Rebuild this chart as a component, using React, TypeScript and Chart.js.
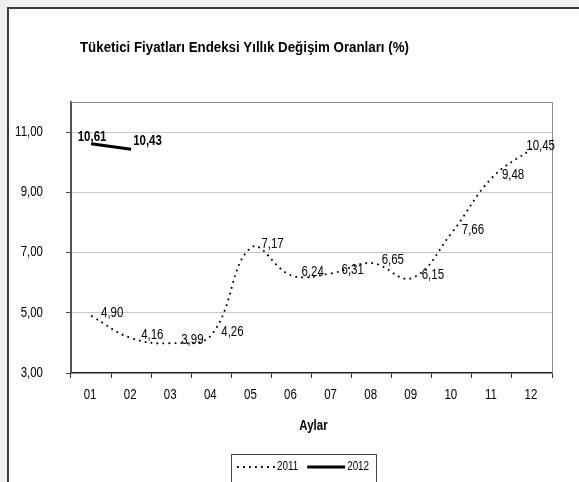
import React, { useEffect, useRef } from "react";
import { Chart, registerables } from "chart.js";

Chart.register(...registerables);

const months = ["01", "02", "03", "04", "05", "06", "07", "08", "09", "10", "11", "12"];
const values2011 = [4.9, 4.16, 3.99, 4.26, 7.17, 6.24, 6.31, 6.65, 6.15, 7.66, 9.48, 10.45];
const values2012 = [10.61, 10.43];
const yTickValues = [3, 5, 7, 9, 11];
const titleText = "Tüketici Fiyatları Endeksi Yıllık Değişim Oranları (%)";
const xAxisTitle = "Aylar";

const FONT = "'Liberation Sans', Arial, sans-serif";
const NARROW = 0.82;
const fmt = (v: number) => v.toFixed(2).replace(".", ",");

const CW = 570;
const CH = 473;

function drawText(
  ctx: CanvasRenderingContext2D,
  txt: string,
  x: number,
  y: number,
  align: CanvasTextAlign,
  font: string,
  sx: number = NARROW
) {
  ctx.save();
  ctx.font = font;
  ctx.textAlign = align;
  ctx.textBaseline = "middle";
  ctx.translate(x, y);
  ctx.scale(sx, 1);
  ctx.fillText(txt, 0, 0);
  ctx.restore();
}

function textWidth(ctx: CanvasRenderingContext2D, txt: string, font: string, sx: number = NARROW) {
  ctx.save();
  ctx.font = font;
  const w = ctx.measureText(txt).width * sx;
  ctx.restore();
  return w;
}

const decorPlugin = {
  id: "decor",
  afterDraw(chart: any) {
    const ctx = chart.ctx as CanvasRenderingContext2D;
    const ca = chart.chartArea;
    ctx.save();
    ctx.fillStyle = "#000";
    // plot top/right border
    ctx.strokeStyle = "#8a8a8a";
    ctx.lineWidth = 1;
    ctx.beginPath();
    ctx.moveTo(ca.left, Math.round(ca.top) + 0.5);
    ctx.lineTo(Math.round(ca.right) + 0.5, Math.round(ca.top) + 0.5);
    ctx.lineTo(Math.round(ca.right) + 0.5, ca.bottom);
    ctx.stroke();

    // tick labels
    const xs = chart.scales.x;
    const ys = chart.scales.y;
    const tickFont = `14px ${FONT}`;
    yTickValues.forEach((v) => {
      drawText(ctx, fmt(v), ys.right - 28, ys.getPixelForValue(v), "right", tickFont);
    });
    months.forEach((m, i) => {
      drawText(ctx, m, xs.getPixelForTick(i) - 1, xs.top + 22, "center", tickFont);
    });

    // title
    drawText(ctx, titleText, 71, 39, "left", `bold 14px ${FONT}`, 0.95);

    // x axis title
    drawText(ctx, xAxisTitle, (ca.left + ca.right) / 2 + 2, 417, "center", `bold 14px ${FONT}`);

    // data labels
    chart.data.datasets.forEach((ds: any, di: number) => {
      const meta = chart.getDatasetMeta(di);
      const font = `${ds.labelBold ? "bold " : ""}14px ${FONT}`;
      meta.data.forEach((pt: any, i: number) => {
        const txt = fmt(ds.data[i]);
        const w = textWidth(ctx, txt, font);
        let x: number;
        let y: number;
        if (ds.labelBold) {
          if (i === 0) {
            x = pt.x - w / 2 + 1;
            y = pt.y - 7;
          } else {
            x = pt.x + 2;
            y = pt.y - 8;
          }
        } else {
          x = pt.x + 10;
          y = pt.y - 3;
          if (x + w > ca.right + 3) x = ca.right + 3 - w;
        }
        drawText(ctx, txt, x, y, "left", font);
      });
    });

    // legend
    const lx = 222.5;
    const ly = 445.5;
    ctx.strokeStyle = "#444";
    ctx.lineWidth = 1;
    ctx.strokeRect(lx, ly, 145, 60);
    const cy = 458;
    let x = 228;
    const lfont = `12px ${FONT}`;
    chart.data.datasets.forEach((ds: any) => {
      ctx.beginPath();
      ctx.strokeStyle = "#000";
      ctx.lineWidth = ds.borderWidth;
      ctx.setLineDash(ds.borderDash || []);
      ctx.moveTo(x, cy);
      ctx.lineTo(x + 38, cy);
      ctx.stroke();
      ctx.setLineDash([]);
      x += 40;
      drawText(ctx, ds.label, x, cy, "left", lfont);
      x += textWidth(ctx, ds.label, lfont) + 9;
    });
    ctx.restore();
  },
};

export default function App() {
  const ref = useRef<HTMLCanvasElement | null>(null);
  useEffect(() => {
    if (!ref.current) return;
    const chart = new Chart(ref.current, {
      type: "line",
      data: {
        labels: months,
        datasets: [
          {
            label: "2011",
            data: values2011,
            borderColor: "#000",
            borderWidth: 1.8,
            borderDash: [1.8, 4.2],
            pointRadius: 0,
            tension: 0.4,
            fill: false,
          } as any,
          {
            label: "2012",
            data: values2012,
            borderColor: "#000",
            borderWidth: 3,
            pointRadius: 0,
            tension: 0,
            fill: false,
            labelBold: true,
          } as any,
        ],
      },
      options: {
        animation: false,
        responsive: false,
        devicePixelRatio: 1,
        events: [],
        layout: { padding: { top: 93, right: 27, left: 0, bottom: 0 } },
        plugins: {
          legend: { display: false },
          title: { display: false },
          tooltip: { enabled: false },
        },
        scales: {
          x: {
            type: "category",
            offset: true,
            grid: {
              offset: true,
              drawOnChartArea: false,
              drawTicks: true,
              tickLength: 5,
              tickColor: "#333",
            },
            border: { display: true, color: "#222", width: 1.5 },
            ticks: { display: false, autoSkip: false, maxRotation: 0 },
            afterFit(scale: any) {
              scale.height = CH - 364;
            },
          },
          y: {
            min: 3,
            max: 12,
            afterBuildTicks(scale: any) {
              scale.ticks = yTickValues.map((v) => ({ value: v }));
            },
            grid: {
              color: (c: any) => (c.tick && c.tick.value === 3 ? "rgba(0,0,0,0)" : "#c6c6c6"),
              lineWidth: 1,
              drawTicks: true,
              tickLength: 5,
              tickColor: "#444",
            },
            border: { display: true, color: "#555", width: 2 },
            ticks: { display: false },
            afterFit(scale: any) {
              scale.width = 62;
            },
          },
        },
      } as any,
      plugins: [decorPlugin],
    });
    return () => chart.destroy();
  }, []);

  return (
    <div style={{ position: "fixed", left: 0, top: 0, right: 0, bottom: 0, overflow: "hidden", background: "#f0f0f0" }}>
      <div
        style={{
          position: "absolute",
          left: 7,
          top: 7,
          width: 590,
          height: 500,
          border: "2px solid #3c3c3c",
          background: "#fff",
        }}
      >
        <canvas ref={ref} width={CW} height={CH} style={{ display: "block", width: CW, height: CH }} />
      </div>
    </div>
  );
}
